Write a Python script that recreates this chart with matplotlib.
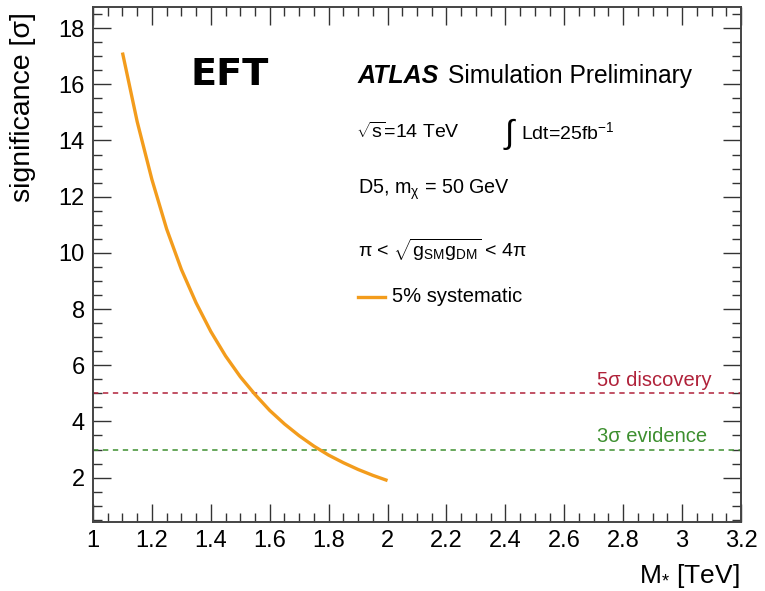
import matplotlib
matplotlib.use("Agg")
import matplotlib.pyplot as plt
from matplotlib.ticker import MultipleLocator
from matplotlib.lines import Line2D

plt.rcParams['font.family'] = ['Liberation Sans', 'DejaVu Sans']
plt.rcParams['mathtext.fontset'] = 'custom'
plt.rcParams['mathtext.rm'] = 'Liberation Sans'
plt.rcParams['mathtext.it'] = 'Liberation Sans'
plt.rcParams['mathtext.bf'] = 'Liberation Sans:bold'

# Data
mass_tev = [1.10, 1.15, 1.20, 1.25, 1.30, 1.35, 1.40, 1.45, 1.50, 1.55,
            1.60, 1.65, 1.70, 1.75, 1.80, 1.85, 1.90, 1.95, 2.00]
significance = [17.13, 14.67, 12.61, 10.85, 9.41, 8.22, 7.20, 6.33, 5.59, 4.96,
                4.39, 3.91, 3.49, 3.12, 2.80, 2.53, 2.29, 2.08, 1.895]
discovery_level = 5
evidence_level = 3
xticks = [1, 1.2, 1.4, 1.6, 1.8, 2, 2.2, 2.4, 2.6, 2.8, 3, 3.2]
xtick_labels = ['1', '1.2', '1.4', '1.6', '1.8', '2', '2.2', '2.4', '2.6', '2.8', '3', '3.2']
yticks = [2, 4, 6, 8, 10, 12, 14, 16, 18]

W, H = 765, 591
fig = plt.figure(figsize=(W / 100, H / 100), dpi=100)
ax = fig.add_axes([93 / W, 1 - 522 / H, (741 - 93) / W, (522 - 7) / H])

orange = '#f39c1c'
red = '#b0223a'
green = '#3d8f2f'

ax.axhline(discovery_level, color=red, lw=1.1, ls=(0, (3.5, 3)))
ax.axhline(evidence_level, color=green, lw=1.1, ls=(0, (3.5, 3)))
ax.plot(mass_tev, significance, color=orange, lw=2.4, solid_capstyle='butt',
        solid_joinstyle='round')

ax.set_xlim(1, 3.2)
ax.set_ylim(0.42, 18.75)
ax.set_xticks(xticks)
ax.set_xticklabels(xtick_labels)
ax.set_yticks(yticks)
ax.xaxis.set_minor_locator(MultipleLocator(0.05))
ax.yaxis.set_minor_locator(MultipleLocator(0.5))
ax.tick_params(which='both', direction='in', top=True, right=True, color='#333333', width=1.0)
ax.tick_params(which='major', length=13, labelsize=17, pad=6)
ax.tick_params(which='minor', length=6.5)
for s in ax.spines.values():
    s.set_color('#444444')
    s.set_linewidth(1.4)

ax.set_ylabel('significance [σ]', fontsize=20.5)
ax.yaxis.set_label_coords(-0.088, 0.99, transform=ax.transAxes)
ax.yaxis.label.set_ha('right')
fig.text(740 / W, 1 - 576 / H, r'M$_{*}$ [TeV]', fontsize=19, ha='right', va='center')


def ftext(x, y, s, **kw):
    fig.text(x / W, 1 - y / H, s, va='center', **kw)


ftext(191, 75, 'EFT', fontsize=27.5, fontweight='bold', family='DejaVu Sans')
ftext(358, 76, 'ATLAS', fontsize=18, fontweight='bold', style='italic')
ftext(448, 76, 'Simulation Preliminary', fontsize=17.7)
ftext(356, 132, r'$\sqrt{\mathrm{s}}$=14 TeV', fontsize=14)
ftext(503, 134, r'$\int$', fontsize=24)
ftext(521, 132, r'Ldt=25fb$^{\mathrm{-1}}$', fontsize=14)
ftext(358, 190, 'D5, m$_{\\mathrm{χ}}$ = 50 GeV', fontsize=14.2)
ftext(358, 250, 'π < $\\sqrt{\\mathrm{g}_{\\mathrm{SM}}\\mathrm{g}_{\\mathrm{DM}}}$ < 4π', fontsize=14)
fig.add_artist(Line2D([358 / W, 385 / W], [1 - 297 / H, 1 - 297 / H], color=orange, lw=2.4,
                      transform=fig.transFigure))
ftext(392, 297, '5% systematic', fontsize=14.5)

ax.text(0.955, discovery_level + 0.12, '5σ discovery', color=red, fontsize=14.5,
        ha='right', va='bottom', transform=ax.get_yaxis_transform())
ax.text(0.947, evidence_level + 0.12, '3σ evidence', color=green, fontsize=14.5,
        ha='right', va='bottom', transform=ax.get_yaxis_transform())

fig.savefig('out.png', dpi=100)
